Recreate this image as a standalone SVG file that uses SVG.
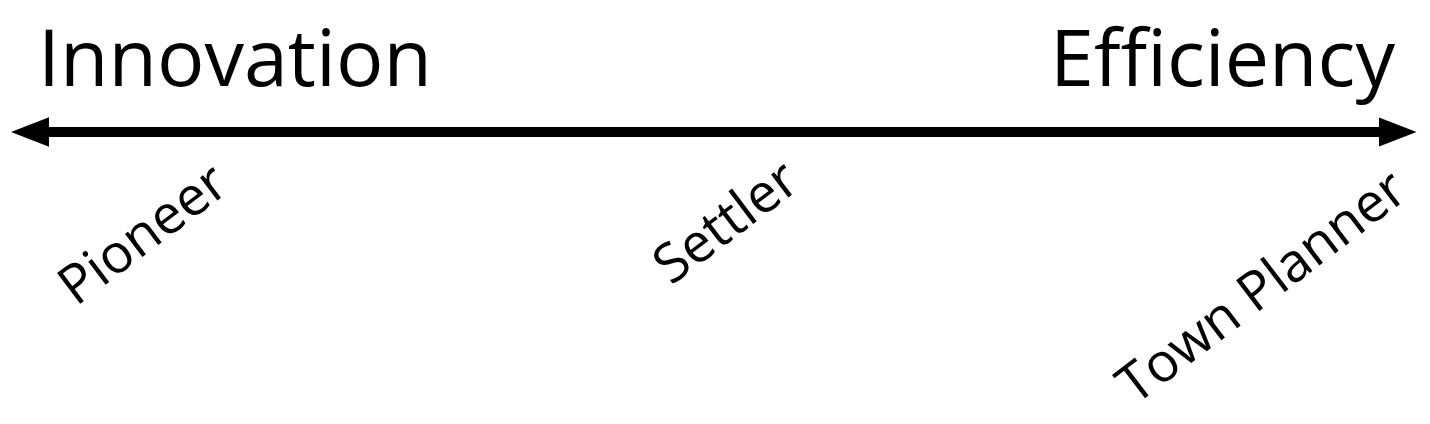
<svg xmlns="http://www.w3.org/2000/svg" width="1430" height="424" viewBox="0 0 1430 424">
<style>
.t{font-family:"Open Sans","Noto Sans",sans-serif;fill:#000}
.big{font-size:79px}
.lab{font-size:54px}
</style>
<defs>
<marker id="ah" markerUnits="userSpaceOnUse" markerWidth="38" markerHeight="32" viewBox="0 0 38 32" refX="0.5" refY="16" orient="auto-start-reverse">
<path d="M0,1.3 L38,16 L0,30.7 Z" fill="#000"/>
</marker>
</defs>
<rect width="1430" height="424" fill="#fff"/>
<g id="connectors">
<line x1="48.5" y1="132" x2="1379" y2="132" stroke="#000" stroke-width="10" marker-start="url(#ah)" marker-end="url(#ah)"/>
</g>
<g id="innovation"><text class="t big" x="38" y="86">Innovation</text></g>
<g id="efficiency"><text class="t big" x="1395" y="86" text-anchor="end">Efficiency</text></g>
<g id="pioneer"><text class="t lab" transform="translate(76,307) rotate(-37)">Pioneer</text></g>
<g id="settler"><text class="t lab" transform="translate(671,286) rotate(-37)">Settler</text></g>
<g id="townplanner"><text class="t lab" transform="translate(1135,406) rotate(-37.3)">Town Planner</text></g>
</svg>
